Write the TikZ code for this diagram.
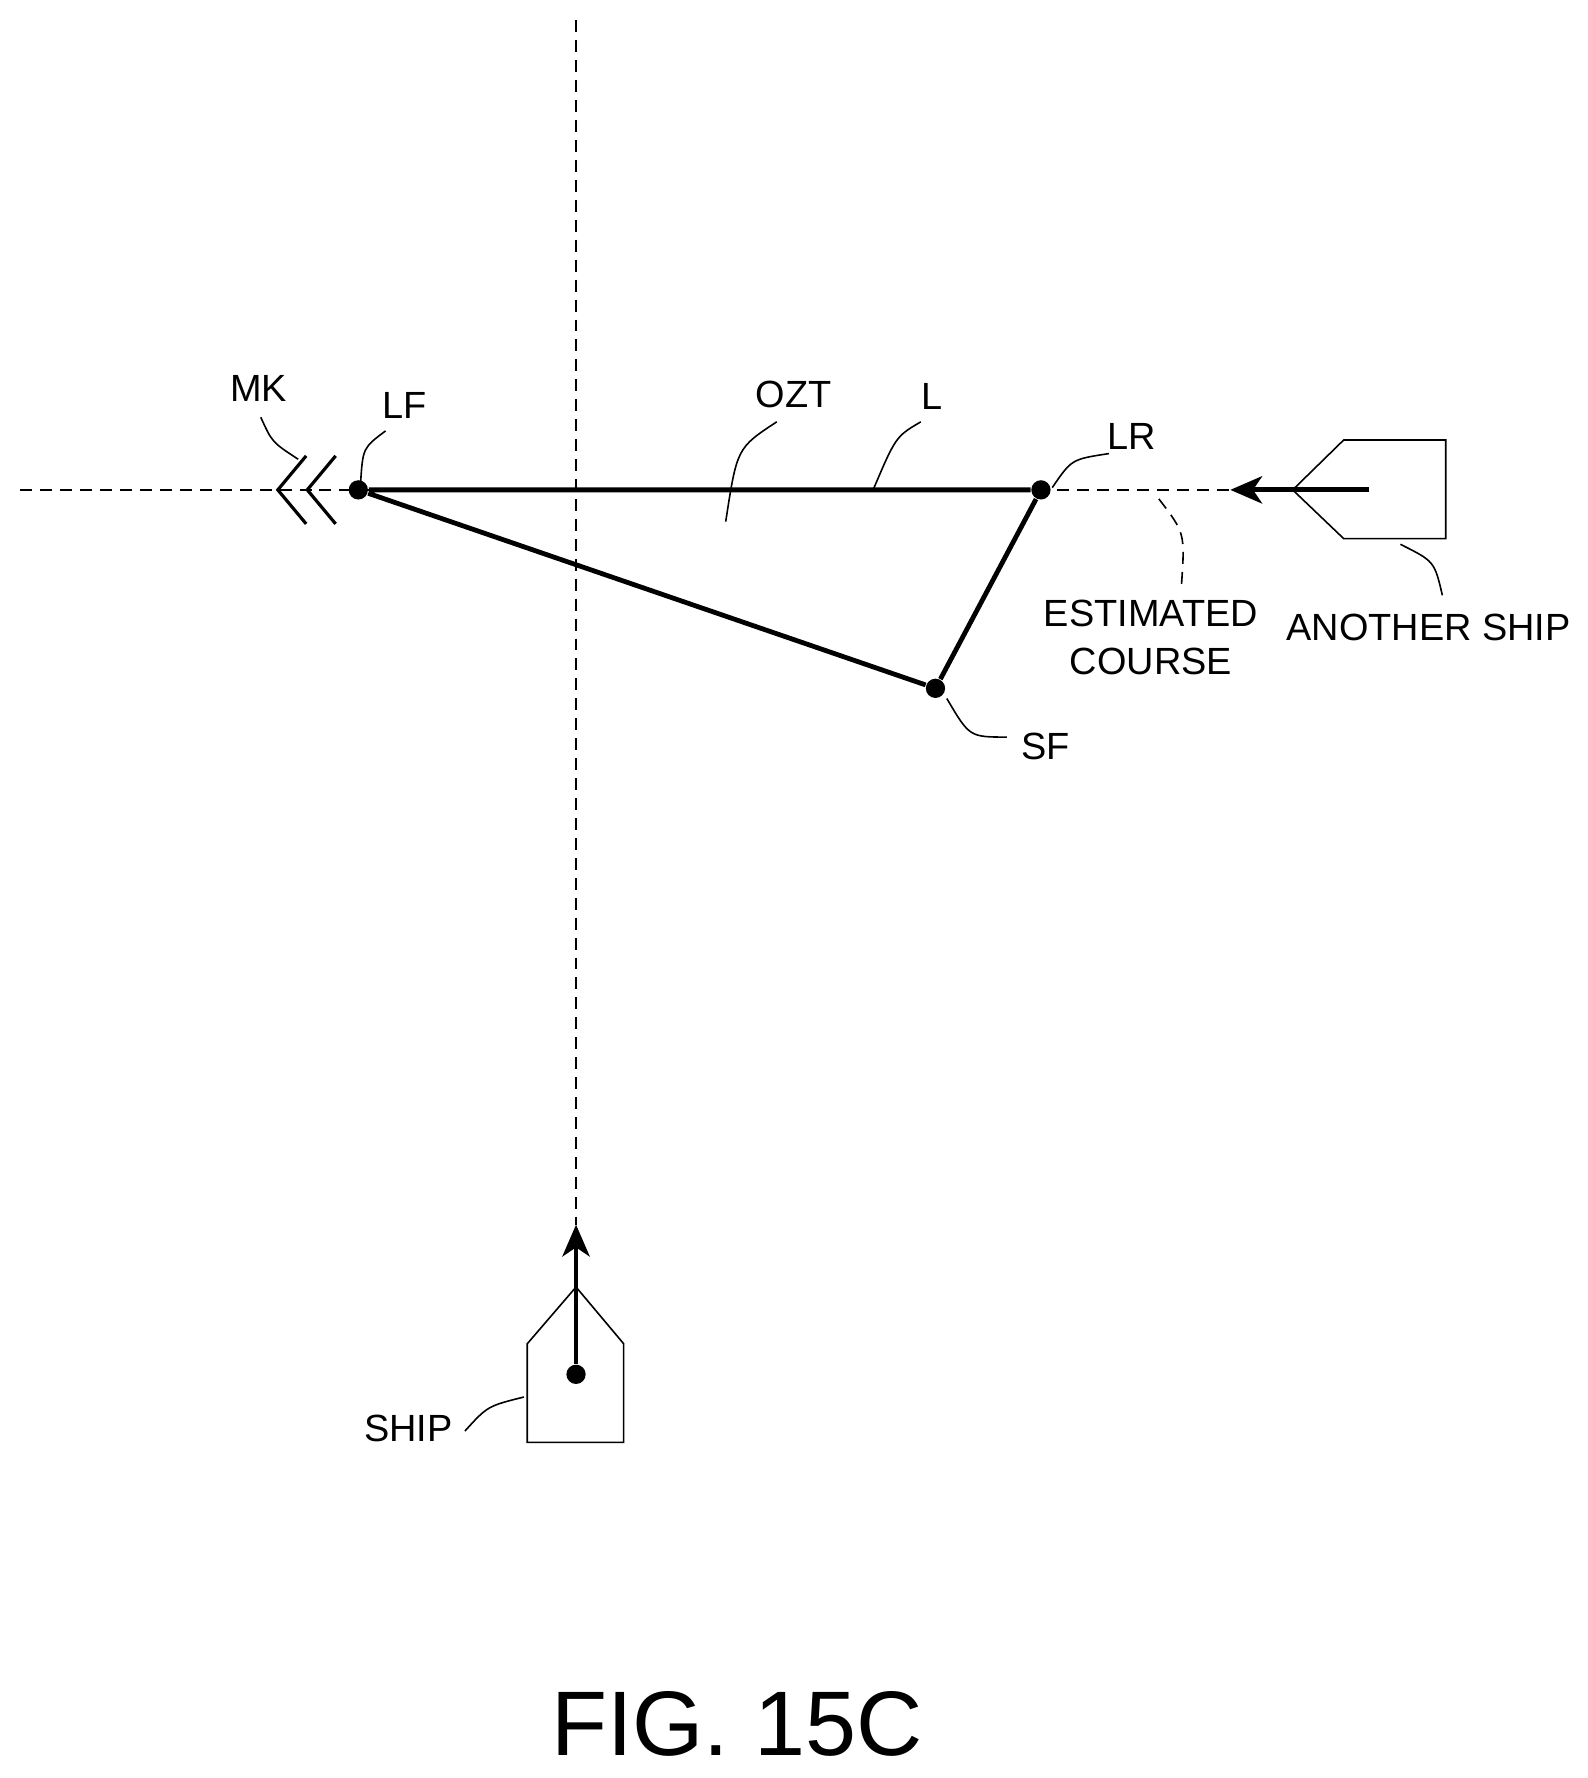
\documentclass[tikz,border=0pt]{standalone}
\usepackage{fontspec}
\setmainfont{Liberation Sans}
\usetikzlibrary{calc,arrows.meta}
\begin{document}
\begin{tikzpicture}[x=0.01cm,y=-0.01cm,
  lbl/.style={font=\fontsize{9.5}{12}\selectfont},
  dot/.style={circle,fill,inner sep=0pt,minimum size=0.17cm},
  course/.style={densely dashed,thin},
  leader/.style={thin}]
  \useasboundingbox (0,0) rectangle (1400,1568);
        % courses
        \draw[course] (508,18) -- (508,1080);
        \draw[course] (18,432) -- (1100,432);
        % obstacle zone
        \node[dot] (LF) at (316,432) {};
        \node[dot] (LR) at (918,432) {};
        \node[dot] (SF) at (825,607) {};
        \draw[very thick] (LF) -- (LR) -- (SF) -- (LF);
        % mark
        \draw[thick] (270,402) -- (245,432) -- (270,462);
        \draw[thick] (296,402) -- (271,432) -- (296,462);
        % another ship
        \draw (1140,432) -- (1185,388) -- (1275,388) -- (1275,475) -- (1185,475) -- cycle;
        \coordinate (OSc) at (1207,432);
        \coordinate (OSh) at (1085,432);
        \draw[very thick,-{Stealth[length=0.28cm,width=0.24cm,inset=0.08cm]}] (OSc) -- (OSh);
        % own ship
        \draw (508,1135) -- (550,1185) -- (550,1272) -- (465,1272) -- (465,1185) -- cycle;
        \node[dot] (OWN) at (508,1212) {};
        \coordinate (OWNh) at (508,1080);
        \draw[very thick,-{Stealth[length=0.28cm,width=0.24cm,inset=0.08cm]}] (OWN) -- (OWNh);
        % labels
        \node[lbl] (MK) at (228,343) {MK};
        \node[lbl] (LFl) at (357,358) {LF};
        \node[lbl] (OZT) at (700,348) {OZT};
        \node[lbl] (Ll) at (822,350) {L};
        \node[lbl] (LRl) at (998,385) {LR};
        \node[lbl,align=center] (EC) at (1015,562) {ESTIMATED\\COURSE};
        \node[lbl] (AS) at (1260,553) {ANOTHER SHIP};
        \node[lbl] (SFl) at (922,658) {SF};
        \node[lbl] (SHIP) at (360,1260) {SHIP};
        \node[font=\fontsize{23}{27}\selectfont] (FIG) at (650,1520) {FIG. 15C};
        % leaders
        \draw[leader] (230,368) .. controls (240,390) .. (263,405);
        \draw[leader] (340,380) .. controls (320,395) .. (318,426);
        \draw[leader] (685,372) .. controls (650,395) .. (640,460);
        \draw[leader] (812,372) .. controls (790,385) .. (770,432);
        \draw[leader] (978,400) .. controls (945,405) .. (928,430);
        \draw[leader,densely dashed] (1022,440) .. controls (1045,470) .. (1042,515);
        \draw[leader] (1235,480) .. controls (1265,495) .. (1272,525);
        \draw[leader] (835,616) .. controls (855,650) .. (888,650);
        \draw[leader] (410,1262) .. controls (430,1240) .. (462,1232);
      \end{tikzpicture}
\end{document}
